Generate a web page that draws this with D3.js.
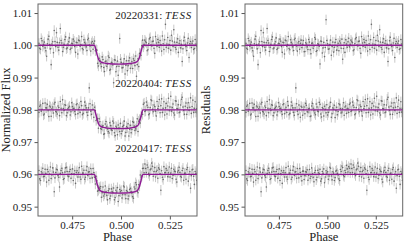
<!DOCTYPE html>
<html>
<head>
<meta charset="utf-8">
<script src="https://cdn.jsdelivr.net/npm/d3@7"></script>
<style>
  html, body { margin: 0; padding: 0; background: #fff; }
  svg { display: block; }
  svg text { font-family: "Liberation Serif", "DejaVu Serif", serif; }
  .tick text { fill: #222; font-size: 11px; }
  .tick line { stroke: #555; }
</style>
</head>
<body>
<div id="chart"></div>
<script>
const W = 407;
const H = 246;
const TOP = 4;
const BOTTOM = 216;
const PANELS = [{ left: 38, right: 197 }, { left: 245, right: 402.7 }];

// TESS cadence in phase; the second set of each night sits half a cadence later
const PHASE_START = 0.458;
const CADENCE = 0.00078;

const NIGHTS = ["20220331", "20220404", "20220417"];
const OFFSETS = [1.00, 0.98, 0.96];
const Y_TICKS = [0.95, 0.96, 0.97, 0.98, 0.99, 1.00, 1.01];
const X_TICKS = [0.475, 0.500, 0.525];
const FLUX_ERR = 1.6; // ppt

// detrended flux, ppt relative to each offset
const FLUX_A = [0.6, -1.2, 1.4, 0.3, -0.8, -3.4, 1.9, 0.2, -6.0, 1.1,
  4.6, -0.4, 0.9, -1.5, 5.2, 0.7, -0.6, 1.8, -1.1, 0.4,
  2.3, -0.9, 0.5, 1.3, -2.2, 0.8, 1.6, -0.3, 2.7, -1.4,
  0.9, -0.5, 1.7, 0.1, -1.8, 1.2, 0.6, -1.7, -1.5, -6.4,
  -4.7, -6.6, -4.4, -8.1, -4.9, -5.8, -3.8, -7.4, -5.5, -11.6,
  -4.6, -6.6, -9.3, 2.1, -5.3, -6.9, -4.2, -6.2, -7.9, -4.8,
  -7.1, -5.0, -4.2, -6.3, -9.6, -4.2, -2.5, -3.1, 1.6, 0.3,
  1.1, -1.7, 0.5, 2.4, -0.2, 1.3, -2.5, 0.7, 1.8, -0.6,
  0.2, 2.9, -1.3, 6.5, 0.4, -0.9, 1.5, 3.1, -0.4, 1.0,
  -1.2, 2.0, 0.6, -0.8, -5.0, 1.4, 0.3, -1.6, 2.2, 0.5,
  -0.7, 1.3, -1.0, 0.4];
const FLUX_A2 = [-0.9, 2.1, -0.3, 1.0, -1.7, 0.5, 2.8, -1.1, 0.4, -2.3,
  1.2, 3.9, -0.6, 0.8, 1.5, -1.9, 0.3, 2.6, -0.8, 1.1,
  -1.3, 0.6, 1.9, -0.4, 0.9, -2.7, 1.4, 0.2, -1.0, 1.7,
  0.4, -1.6, 2.2, -0.2, 0.7, -1.2, 1.3, -1.3, -5.6, -4.0,
  -5.7, -3.6, -6.9, -5.0, -6.5, -3.3, -7.7, -5.3, -6.1, -4.5,
  -8.2, -4.9, -6.5, -4.3, -7.0, -5.6, -8.9, -4.8, -6.3, -3.9,
  -5.8, -7.2, -4.7, -3.3, -6.0, -6.6, -2.6, -0.1, -0.5, 1.6,
  0.8, -1.4, 2.0, 0.1, 1.2, -0.9, 2.7, -0.3, 0.9, 1.5,
  -1.8, 0.5, 1.7, -0.6, 2.4, 0.2, -1.5, 1.3, 4.8, -0.7,
  0.9, -2.2, 1.4, 0.3, -1.1, 2.5, -0.4, 0.7, -3.8, 1.2,
  0.6, -1.3, 1.8, -0.2];
const FLUX_B = [-0.8, 1.5, 0.2, -1.6, 2.1, 0.6, -0.3, 1.2, -2.0, 0.9,
  1.8, -0.5, -1.3, 0.7, 2.6, -0.9, 0.4, 1.6, -1.8, 0.3,
  1.1, -0.6, 1.0, 0.5, -1.4, 1.9, 0.2, -0.8, 1.3, -1.1,
  2.4, 0.6, -1.7, 6.8, -0.4, 1.5, -2.3, -0.2, -2.9, -5.7,
  -3.7, -6.0, -4.9, -7.4, -3.6, -5.9, -7.2, -4.9, -6.4, -4.1,
  -8.0, -5.4, -4.7, -6.7, -7.4, -5.2, -3.5, -7.0, -5.6, -8.1,
  -4.8, -6.1, -3.9, -6.4, -5.0, -6.7, -3.0, -2.0, -1.4, 2.1,
  -0.3, 1.4, -1.5, 0.7, 2.8, -0.6, 1.0, -1.9, 0.4, 3.2,
  1.3, -0.8, 2.5, 0.6, -1.3, 3.6, 0.9, -0.4, 1.8, -1.6,
  2.7, 0.3, -0.9, 1.5, 3.9, -0.2, 1.1, -1.4, 2.2, 0.8,
  -1.1, 3.0, 0.5, -0.7];
const FLUX_B2 = [1.1, -0.4, 2.0, -1.3, 0.6, 1.7, -2.1, 0.9, 0.3, -1.0,
  2.3, -0.7, 1.2, -1.8, 0.5, 3.1, -0.2, 1.4, -0.9, 0.7,
  -1.6, 2.2, 0.4, -0.5, 1.6, -1.2, 0.8, 2.6, -1.5, 0.1,
  1.3, -0.8, 0.6, 1.9, -1.4, 0.2, 0.8, -3.3, -2.7, -2.8,
  -5.8, -5.1, -7.6, -4.4, -5.1, -6.7, -4.0, -6.2, -3.5, -7.1,
  -5.1, -7.7, -5.6, -4.2, -6.6, -4.8, -8.1, -5.2, -4.3, -6.0,
  -7.1, -3.6, -5.0, -5.9, -2.8, -3.5, -4.1, -0.9, 1.7, -0.5,
  2.4, 0.8, -1.2, 3.1, 0.2, 1.5, -0.4, 2.6, 1.1, -0.9,
  3.4, 0.5, -1.6, 2.0, 1.2, -0.3, 4.2, 0.7, -1.0, 2.8,
  0.4, 1.6, -0.7, 3.3, 0.9, -1.4, 2.1, 0.6, -0.2, 3.7,
  1.0, -0.8, 2.5, 0.3];
const FLUX_C = [1.2, -1.9, 0.4, -0.7, 1.6, -2.4, 0.8, 0.1, -1.3, 2.0,
  -5.4, 0.6, 1.4, -0.9, 0.3, 1.9, -1.6, 0.7, 2.2, -0.5,
  0.9, -1.2, 1.7, 0.2, -2.8, 1.1, 0.5, -0.8, 2.5, 0.4,
  -1.5, 1.3, -0.3, 0.8, 1.8, -1.1, 0.6, -3.0, -2.0, -4.9,
  -4.4, -7.1, -3.9, -6.1, -5.4, -7.9, -4.5, -6.7, -5.3, -4.2,
  -7.2, -5.5, -8.4, -4.7, -5.0, -6.3, -3.9, -7.5, -5.4, -6.7,
  -4.3, -5.8, -7.4, -4.5, -3.2, -5.7, -3.6, -0.8, 1.8, 0.5,
  1.8, 2.9, 0.3, 1.4, 3.5, -0.6, 2.1, 0.9, -1.2, 1.6,
  -4.9, -0.9, 2.4, 0.6, 1.3, 0.5, -0.8, 1.9, -0.3, 1.0,
  -1.5, 0.7, 2.2, -0.6, 1.2, -1.8, 0.4, 1.5, -2.1, 0.8,
  -0.4, 1.6, -3.1, 0.3];
const FLUX_C2 = [-1.4, 0.8, 1.9, -0.6, 0.3, 1.5, -1.8, 2.3, -0.2, 0.7,
  -1.1, 1.6, -0.4, -3.9, 1.2, 0.5, -1.3, 2.0, 0.9, -0.7,
  1.5, 0.2, -1.9, 1.1, 0.6, -0.8, 2.1, -1.5, 0.4, 1.3,
  -0.9, 2.4, 0.7, -1.2, 0.1, 1.8, -0.9, -0.6, -5.2, -4.0,
  -3.8, -5.7, -6.7, -3.6, -6.5, -5.1, -7.5, -4.5, -5.6, -7.9,
  -4.9, -4.1, -6.6, -5.4, -7.3, -3.6, -6.3, -5.0, -7.6, -4.7,
  -5.3, -6.9, -3.9, -2.6, -5.3, -3.2, -0.2, -0.5, 1.9, 3.2,
  0.6, 2.2, -0.4, 1.7, 2.5, 0.9, -0.8, 1.3, 2.0, 0.2,
  1.1, -1.6, 0.5, 1.8, -0.7, 2.3, 0.4, -1.3, 1.6, 0.8,
  -2.4, 1.2, 0.6, -0.9, 1.9, 0.3, -1.5, 2.1, 0.0, -4.3,
  1.4, -0.6, 0.9, -1.8];

// residuals after removing the transit model, ppt
const RES_A = [0.6, -1.2, 1.4, 0.3, -0.8, -3.4, 1.9, 0.2, -6.0, 1.1,
  4.6, -0.4, 0.9, -1.5, 5.2, 0.7, -0.6, 1.8, -1.1, 0.4,
  2.3, -0.9, 0.5, 1.3, -2.2, 0.8, 1.6, -0.3, 2.7, -1.4,
  0.9, -0.5, 1.7, 0.1, -1.8, 1.2, 0.6, -0.7, 1.5, -1.9,
  0.4, -1.3, 1.0, -2.6, 0.7, -0.2, 1.9, -1.6, 0.3, -5.8,
  1.2, -0.8, -3.5, 7.9, 0.5, -1.1, 1.6, -0.4, -2.1, 0.9,
  -1.5, 0.6, 1.3, -0.9, -4.3, 0.8, 1.7, -0.6, 2.2, 0.3,
  1.1, -1.7, 0.5, 2.4, -0.2, 1.3, -2.5, 0.7, 1.8, -0.6,
  0.2, 2.9, -1.3, 6.5, 0.4, -0.9, 1.5, 3.1, -0.4, 1.0,
  -1.2, 2.0, 0.6, -0.8, -5.0, 1.4, 0.3, -1.6, 2.2, 0.5,
  -0.7, 1.3, -1.0, 0.4];
const RES_A2 = [-0.9, 2.1, -0.3, 1.0, -1.7, 0.5, 2.8, -1.1, 0.4, -2.3,
  1.2, 3.9, -0.6, 0.8, 1.5, -1.9, 0.3, 2.6, -0.8, 1.1,
  -1.3, 0.6, 1.9, -0.4, 0.9, -2.7, 1.4, 0.2, -1.0, 1.7,
  0.4, -1.6, 2.2, -0.2, 0.7, -1.2, 1.6, 0.3, -2.0, 0.8,
  -0.5, 1.8, -1.4, 0.6, -0.9, 2.4, -1.9, 0.5, -0.3, 1.3,
  -2.4, 0.9, -0.7, 1.5, -1.2, 0.2, -3.1, 1.0, -0.6, 1.8,
  -0.2, -1.7, 0.7, 1.9, -1.0, -2.2, 0.4, 1.1, -0.5, 1.6,
  0.8, -1.4, 2.0, 0.1, 1.2, -0.9, 2.7, -0.3, 0.9, 1.5,
  -1.8, 0.5, 1.7, -0.6, 2.4, 0.2, -1.5, 1.3, 4.8, -0.7,
  0.9, -2.2, 1.4, 0.3, -1.1, 2.5, -0.4, 0.7, -3.8, 1.2,
  0.6, -1.3, 1.8, -0.2];
const RES_B = [-0.8, 1.5, 0.2, -1.6, 2.1, 0.6, -0.3, 1.2, -2.0, 0.9,
  1.8, -0.5, -1.3, 0.7, 2.6, -0.9, 0.4, 1.6, -1.8, 0.3,
  1.1, -0.6, 1.0, 0.5, -1.4, 1.9, 0.2, -0.8, 1.3, -1.1,
  2.4, 0.6, -1.7, 6.8, -0.4, 1.5, -2.3, 0.8, 0.1, -1.2,
  1.4, -0.7, 0.5, -1.9, 2.0, -0.3, -1.5, 0.9, -0.6, 1.7,
  -2.2, 0.4, 1.1, -0.9, -1.6, 0.6, 2.3, -1.2, 0.2, -2.4,
  0.8, -0.5, 1.6, -1.0, 0.3, -1.7, 1.2, 0.5, -0.8, 2.1,
  -0.3, 1.4, -1.5, 0.7, 2.8, -0.6, 1.0, -1.9, 0.4, 3.2,
  1.3, -0.8, 2.5, 0.6, -1.3, 3.6, 0.9, -0.4, 1.8, -1.6,
  2.7, 0.3, -0.9, 1.5, 3.9, -0.2, 1.1, -1.4, 2.2, 0.8,
  -1.1, 3.0, 0.5, -0.7];
const RES_B2 = [1.1, -0.4, 2.0, -1.3, 0.6, 1.7, -2.1, 0.9, 0.3, -1.0,
  2.3, -0.7, 1.2, -1.8, 0.5, 3.1, -0.2, 1.4, -0.9, 0.7,
  -1.6, 2.2, 0.4, -0.5, 1.6, -1.2, 0.8, 2.6, -1.5, 0.1,
  1.3, -0.8, 0.6, 1.9, -1.4, 0.2, 1.1, -1.7, 0.9, 2.0,
  -0.6, 0.3, -2.1, 1.2, 0.5, -1.0, 1.8, -0.4, 2.3, -1.3,
  0.7, -1.9, 0.2, 1.6, -0.8, 1.0, -2.3, 0.6, 1.4, -0.3,
  -1.5, 1.9, 0.4, -0.7, 2.2, 0.9, -1.1, 0.3, 1.7, -0.5,
  2.4, 0.8, -1.2, 3.1, 0.2, 1.5, -0.4, 2.6, 1.1, -0.9,
  3.4, 0.5, -1.6, 2.0, 1.2, -0.3, 4.2, 0.7, -1.0, 2.8,
  0.4, 1.6, -0.7, 3.3, 0.9, -1.4, 2.1, 0.6, -0.2, 3.7,
  1.0, -0.8, 2.5, 0.3];
const RES_C = [1.2, -1.9, 0.4, -0.7, 1.6, -2.4, 0.8, 0.1, -1.3, 2.0,
  -5.4, 0.6, 1.4, -0.9, 0.3, 1.9, -1.6, 0.7, 2.2, -0.5,
  0.9, -1.2, 1.7, 0.2, -2.8, 1.1, 0.5, -0.8, 2.5, 0.4,
  -1.5, 1.3, -0.3, 0.8, 1.8, -1.1, 0.6, -2.0, 1.0, -0.4,
  0.7, -1.8, 1.5, -0.6, 0.2, -2.3, 1.2, -0.9, 0.5, 1.6,
  -1.4, 0.3, -2.6, 1.1, 0.8, -0.5, 1.9, -1.7, 0.4, -1.0,
  1.3, -0.2, -1.9, 0.9, 2.1, -0.7, 0.6, 1.7, 2.4, 0.5,
  1.8, 2.9, 0.3, 1.4, 3.5, -0.6, 2.1, 0.9, -1.2, 1.6,
  -4.9, -0.9, 2.4, 0.6, 1.3, 0.5, -0.8, 1.9, -0.3, 1.0,
  -1.5, 0.7, 2.2, -0.6, 1.2, -1.8, 0.4, 1.5, -2.1, 0.8,
  -0.4, 1.6, -3.1, 0.3];
const RES_C2 = [-1.4, 0.8, 1.9, -0.6, 0.3, 1.5, -1.8, 2.3, -0.2, 0.7,
  -1.1, 1.6, -0.4, -3.9, 1.2, 0.5, -1.3, 2.0, 0.9, -0.7,
  1.5, 0.2, -1.9, 1.1, 0.6, -0.8, 2.1, -1.5, 0.4, 1.3,
  -0.9, 2.4, 0.7, -1.2, 0.1, 1.8, -0.6, 1.0, -1.6, 0.8,
  1.4, -0.3, -1.2, 2.0, -0.9, 0.6, -1.7, 1.3, 0.2, -2.1,
  0.9, 1.7, -0.8, 0.4, -1.5, 2.2, -0.5, 0.8, -1.9, 1.0,
  0.3, -1.4, 1.5, 2.6, -0.3, 1.2, 2.8, 0.7, 1.9, 3.2,
  0.6, 2.2, -0.4, 1.7, 2.5, 0.9, -0.8, 1.3, 2.0, 0.2,
  1.1, -1.6, 0.5, 1.8, -0.7, 2.3, 0.4, -1.3, 1.6, 0.8,
  -2.4, 1.2, 0.6, -0.9, 1.9, 0.3, -1.5, 2.1, 0.0, -4.3,
  1.4, -0.6, 0.9, -1.8];

// best-fit transit model, read at nodes (ppt)
const MODEL_PHASE = [0.4575, 0.4864, 0.4868, 0.4873, 0.4879, 0.4885, 0.4891, 0.4898, 0.4910, 0.4930,
  0.4960, 0.4988, 0.5016, 0.5046, 0.5066, 0.5078, 0.5085, 0.5091, 0.5097, 0.5103, 0.5108, 0.5112, 0.5390];
const MODEL_DEPTH = [0, 0, -0.6, -1.8, -3.2, -4.3, -4.9, -5.2, -5.45, -5.65,
  -5.78, -5.82, -5.78, -5.65, -5.45, -5.2, -4.9, -4.3, -3.2, -1.8, -0.6, 0, 0];

const FLUX = [[FLUX_A, FLUX_A2], [FLUX_B, FLUX_B2], [FLUX_C, FLUX_C2]];
const RES = [[RES_A, RES_A2], [RES_B, RES_B2], [RES_C, RES_C2]];

const MODEL_COLOR = "#8e1a94";
const FRAME = "#666";
const SERIF = "Liberation Serif, DejaVu Serif, serif";

const svg = d3.select("#chart").append("svg")
  .attr("width", W).attr("height", H)
  .attr("viewBox", `0 0 ${W} ${H}`);

const y = d3.scaleLinear().domain([0.9471, 1.0128]).range([BOTTOM, TOP]);

function drawPanel(p, index, series, withModel, yLabel, labelX) {
  const x = d3.scaleLinear().domain([0.4575, 0.5389]).range([p.left, p.right]);
  const clipId = `clip${index}`;
  svg.append("clipPath").attr("id", clipId)
    .append("rect").attr("x", p.left).attr("y", TOP)
    .attr("width", p.right - p.left).attr("height", BOTTOM - TOP);

  const g = svg.append("g").attr("clip-path", `url(#${clipId})`);

  const pts = series.flatMap((sets, k) => sets.flatMap((vals, s) => vals.map((v, i) => ({
    ph: PHASE_START + (i + s / 2) * CADENCE,
    f: OFFSETS[k] + v / 1000,
  }))));

  g.append("g").selectAll("line").data(pts).join("line")
    .attr("x1", (d) => x(d.ph)).attr("x2", (d) => x(d.ph))
    .attr("y1", (d) => y(d.f - FLUX_ERR / 1000)).attr("y2", (d) => y(d.f + FLUX_ERR / 1000))
    .attr("stroke", "#c2c2c2").attr("stroke-width", 0.9);
  g.append("g").selectAll("circle").data(pts).join("circle")
    .attr("cx", (d) => x(d.ph)).attr("cy", (d) => y(d.f))
    .attr("r", 0.8).attr("fill", "#6a6a6a");

  OFFSETS.forEach((base) => {
    if (withModel) {
      const line = d3.line().x((d) => x(d[0])).y((d) => y(base + d[1] / 1000)).curve(d3.curveMonotoneX);
      g.append("path").datum(MODEL_PHASE.map((ph, i) => [ph, MODEL_DEPTH[i]]))
        .attr("d", line).attr("fill", "none")
        .attr("stroke", MODEL_COLOR).attr("stroke-width", 1.4);
    } else {
      g.append("line").attr("x1", p.left).attr("x2", p.right)
        .attr("y1", y(base)).attr("y2", y(base))
        .attr("stroke", MODEL_COLOR).attr("stroke-width", 1.4);
    }
  });

  svg.append("g").attr("transform", `translate(${p.left},0)`)
    .call(d3.axisLeft(y).tickValues(Y_TICKS).tickFormat(d3.format(".2f")).tickSize(3.5).tickPadding(2.5))
    .attr("font-family", SERIF).attr("font-size", 11)
    .call((a) => a.select(".domain").remove());
  svg.append("g").attr("transform", `translate(0,${BOTTOM})`)
    .call(d3.axisBottom(x).tickValues(X_TICKS).tickFormat(d3.format(".3f")).tickSize(3.5).tickPadding(2))
    .attr("font-family", SERIF).attr("font-size", 11)
    .call((a) => a.select(".domain").remove());

  svg.append("rect").attr("x", p.left).attr("y", TOP)
    .attr("width", p.right - p.left).attr("height", BOTTOM - TOP)
    .attr("fill", "none").attr("stroke", FRAME).attr("stroke-width", 1);

  svg.append("text").attr("x", (p.left + p.right) / 2).attr("y", 241)
    .attr("text-anchor", "middle").attr("font-size", 12.5).attr("fill", "#222")
    .text("Phase");
  svg.append("text").attr("transform", `translate(${labelX},${(TOP + BOTTOM) / 2}) rotate(-90)`)
    .attr("text-anchor", "middle").attr("font-size", 12.5).attr("fill", "#222")
    .text(yLabel);
}

drawPanel(PANELS[0], 0, FLUX, true, "Normalized Flux", 10);
drawPanel(PANELS[1], 1, RES, false, "Residuals", 210);

const LABEL_Y = [19, 86.5, 152];
NIGHTS.forEach((night, k) => {
  const t = svg.append("text").attr("x", 192).attr("y", LABEL_Y[k])
    .attr("text-anchor", "end").attr("font-size", 11).attr("fill", "#222");
  t.append("tspan").text(`${night}: `);
  t.append("tspan").attr("font-style", "italic").attr("letter-spacing", 0.8).text("TESS");
});
</script>
</body>
</html>
